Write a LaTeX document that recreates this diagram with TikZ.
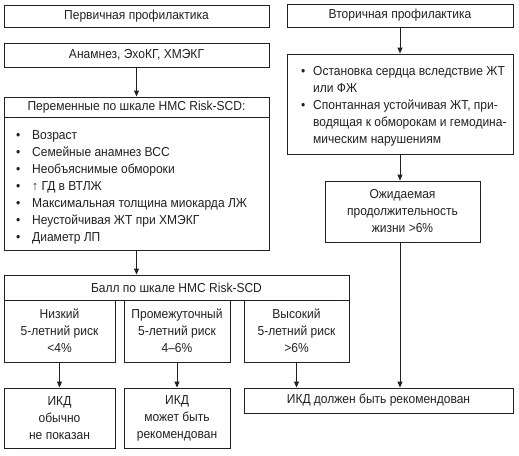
\documentclass[tikz,border=0pt]{standalone}
\usepackage{fontspec}
\setmainfont{Liberation Sans}[FakeStretch=0.925]
\usetikzlibrary{arrows.meta}
\definecolor{inkc}{HTML}{231F20}
\newcommand{\bl}[2][16pt]{\makebox[#1][l]{\textbullet}#2}
\newcommand{\cn}[2][12pt]{\hspace*{#1}#2}

\begin{document}
\begin{tikzpicture}[
  x=1pt, y=-1pt,
  every node/.style={font=\fontsize{13}{17}\selectfont, text=inkc},
  box/.style={draw=inkc, line width=0.9pt, align=center, inner sep=0pt},
  >={Triangle[length=6pt,width=5pt]},
  link/.style={->, draw=inkc, line width=0.9pt}
]
\useasboundingbox (0,0) rectangle (519,455);

% Left column: primary prevention
\node[box, minimum width=265pt, minimum height=22pt] (prim) at (136.5,16) {Первичная профилактика};
\node[box, minimum width=265pt, minimum height=24pt] (anam) at (136.5,55) {Анамнез, ЭхоКГ, ХМЭКГ};
\node[box, minimum width=265pt, minimum height=20pt] (varhead) at (136.5,107) {Переменные по шкале HMC Risk-SCD:};
\node[box, minimum width=265pt, minimum height=133pt] (varlist) at (136.5,183.5) {};
\node[anchor=north west, align=left, inner sep=0pt] (vartext) at (16,130)
  {\bl{Возраст}\\
   \bl{Семейные анамнез ВСС}\\
   \bl{Необъяснимые обмороки}\\
   \bl{↑ ГД в ВТЛЖ}\\
   \bl{Максимальная толщина миокарда ЛЖ}\\
   \bl{Неустойчивая ЖТ при ХМЭКГ}\\
   \bl{Диаметр ЛП}};

\draw[link] (anam) -- (varhead);

% Right column: secondary prevention
\node[box, minimum width=226pt, minimum height=23pt] (sec) at (400,15.5) {Вторичная профилактика};
\node[box, minimum width=226pt, minimum height=100pt] (secbox) at (400,104) {};
\node[anchor=north west, align=left, inner sep=0pt] (sectext) at (301,66)
  {\bl[12pt]{Остановка сердца вследствие ЖТ}\\
   \cn{или ФЖ}\\
   \bl[12pt]{Спонтанная устойчивая ЖТ, при-}\\
   \cn{водящая к обморокам и гемодина-}\\
   \cn{мическим нарушениям}};
\node[box, minimum width=155pt, minimum height=61pt] (life) at (402.5,211.5) {Ожидаемая\\продолжительность\\жизни >6\%};

\draw[link] (sec) -- (secbox);
\draw[link] (secbox.south) -- (secbox.south |- life.north);

% Score and risk groups
\node[box, minimum width=345pt, minimum height=25pt] (score) at (176.5,287.5) {Балл по шкале HMC Risk-SCD};
\node[box, minimum width=111pt, minimum height=62pt] (low) at (59.5,331) {Низкий\\5-летний риск\\<4\%};
\node[box, minimum width=106pt, minimum height=62pt] (mid) at (177,331) {Промежуточный\\5-летний риск\\4--6\%};
\node[box, minimum width=105pt, minimum height=62pt] (high) at (296.5,331) {Высокий\\5-летний риск\\>6\%};

\draw[link] (varlist.south) -- (varlist.south |- score.north);

% Decisions
\node[box, minimum width=111pt, minimum height=60pt] (lowres) at (59.5,418) {ИКД\\обычно\\не показан};
\node[box, minimum width=106pt, minimum height=60pt] (midres) at (177,418) {ИКД\\может быть\\рекомендован};
\node[box, minimum width=269pt, minimum height=25pt] (final) at (378.5,400.5) {ИКД должен быть рекомендован};

\draw[link] (low) -- (lowres);
\draw[link] (mid) -- (midres);
\draw[link] (high.south) -- (high.south |- final.north);
\draw[link] (secbox.south |- life.south) -- (secbox.south |- final.north);
\end{tikzpicture}
\end{document}
